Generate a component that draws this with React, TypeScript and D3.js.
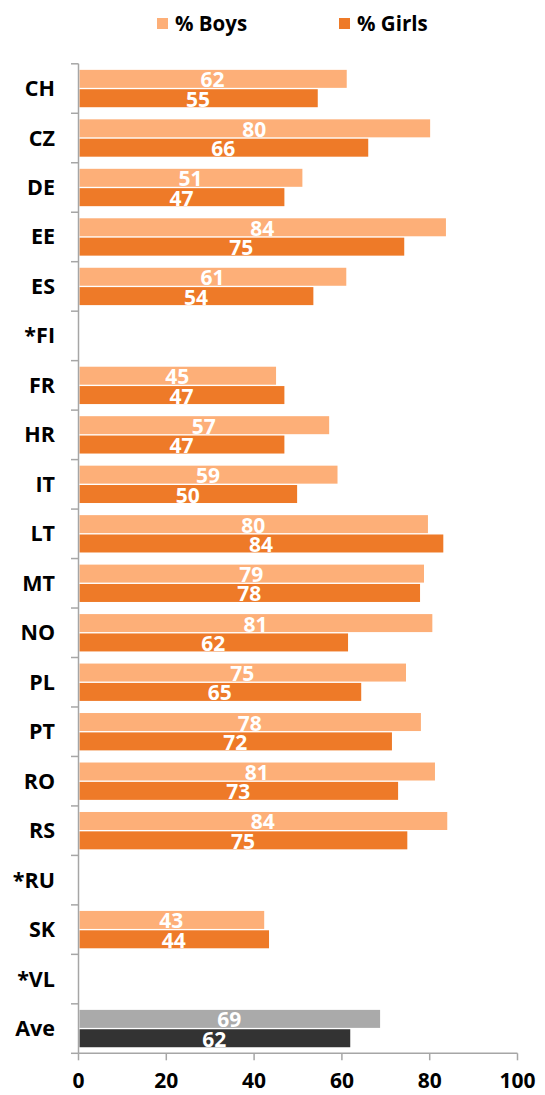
import React from "react";
import * as d3 from "d3";

const categories = ["CH","CZ","DE","EE","ES","*FI","FR","HR","IT","LT","MT","NO","PL","PT","RO","RS","*RU","SK","*VL","Ave"];
const boys: (number|null)[] = [61.1,80.1,51,83.7,61,null,45,57.1,59,79.6,78.7,80.6,74.6,78,81.2,84,null,42.3,null,68.7];
const girls: (number|null)[] = [54.5,66,46.9,74.2,53.5,null,46.9,46.9,49.8,83.1,77.8,61.4,64.4,71.4,72.8,74.9,null,43.4,null,61.9];
const boysLabels = ["62","80","51","84","61","","45","57","59","80","79","81","75","78","81","84","","43","","69"];
const girlsLabels = ["55","66","47","75","54","","47","47","50","84","78","62","65","72","73","75","","44","","62"];
const xTicks = [0,20,40,60,80,100];
const seriesNames = ["% Boys","% Girls"];

const W = 545, H = 1095;
const FONT = "'Open Sans', Lato, sans-serif";
const C_BOYS = "#FDAF78";
const C_GIRLS = "#EE7A28";
const C_AVE_B = "#AAAAAA";
const C_AVE_G = "#333333";
const AXIS = "#A6A6A6";

export default function App() {
  const x = d3.scaleLinear().domain([0,100]).range([78.5,517.5]);
  const y = d3.scaleBand<string>().domain(categories).range([63.8,1053.3]).paddingInner(0.245).paddingOuter(0.1225);
  const sub = d3.scaleBand<string>().domain(seriesNames).range([0,y.bandwidth()]).paddingInner(0.07);
  const step = y.step();
  const top = 63.8, bottom = 1053.3;
  const bars: any[] = [];
  categories.forEach((c,i)=>{
    const isAve = c === "Ave";
    [[boys,boysLabels,seriesNames[0],isAve?C_AVE_B:C_BOYS],[girls,girlsLabels,seriesNames[1],isAve?C_AVE_G:C_GIRLS]].forEach(([vals,labs,s,col]: any)=>{
      const v = vals[i];
      if (v==null) return;
      const y0 = (y(c) as number) + (sub(s) as number);
      const h = sub.bandwidth();
      bars.push(
        <g key={c+s}>
          <rect x={x(0)+1} y={y0} width={x(v)-x(0)-1} height={h} fill={col} />
          <text x={(x(0)+x(v))/2} y={y0+h/2+8.5} textAnchor="middle" fill="#fff" fontFamily={FONT} fontWeight={700} fontSize={21}>{labs[i]}</text>
        </g>
      );
    });
  });
  return (
    <svg width={W} height={H} style={{position:"absolute",left:0,top:0}} >
      <rect width={W} height={H} fill="#fff" />
      {/* legend */}
      <rect x={157} y={18} width={11} height={11} fill={C_BOYS} />
      <text x={175} y={30.5} fontFamily={FONT} fontWeight={700} fontSize={20.5} fill="#000">{seriesNames[0]}</text>
      <rect x={339} y={18} width={11} height={11} fill={C_GIRLS} />
      <text x={357} y={30.5} fontFamily={FONT} fontWeight={700} fontSize={20.5} fill="#000">{seriesNames[1]}</text>
      {bars}
      {/* y axis */}
      <line x1={78.5} x2={78.5} y1={top} y2={bottom} stroke={AXIS} strokeWidth={1.5} />
      {d3.range(categories.length+1).map(i=>(
        <line key={"yt"+i} x1={71} x2={78.5} y1={top+i*step} y2={top+i*step} stroke={AXIS} strokeWidth={1.5} />
      ))}
      {categories.map(c=>(
        <text key={"yl"+c} x={55} y={(y(c) as number)+y.bandwidth()/2+7.5} textAnchor="end" fontFamily={FONT} fontWeight={700} fontSize={21.5} fill="#000">{c}</text>
      ))}
      {/* x axis */}
      <line x1={78.5} x2={517.5} y1={bottom} y2={bottom} stroke={AXIS} strokeWidth={1.5} />
      {xTicks.map(t=>(
        <g key={"xt"+t}>
          <line x1={x(t)} x2={x(t)} y1={bottom} y2={bottom+7} stroke={AXIS} strokeWidth={1.5} />
          <text x={x(t)} y={1088} textAnchor="middle" fontFamily={FONT} fontWeight={700} fontSize={21} fill="#000">{t}</text>
        </g>
      ))}
    </svg>
  );
}
